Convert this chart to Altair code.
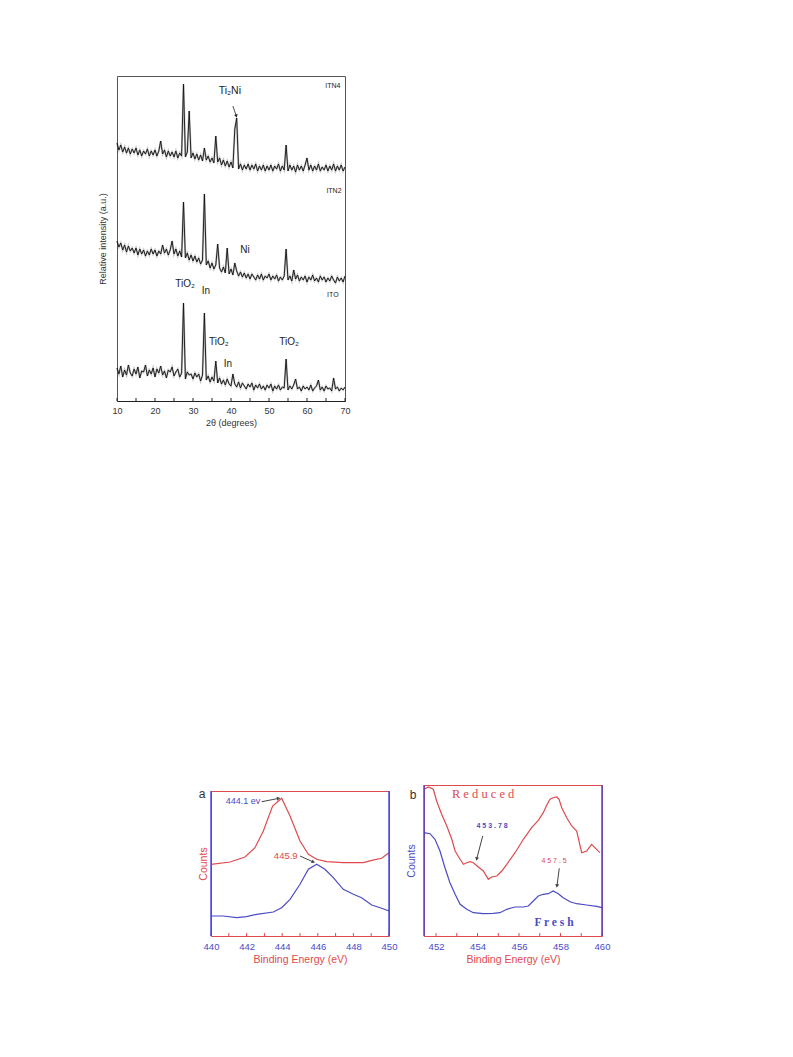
import altair as alt
import pandas as pd

# ---------------- XRD (top figure) ----------------
two_theta = [round(10 + 0.5 * i, 1) for i in range(121)]

ito = [33, 27, 35, 24, 31, 26, 36, 28, 25, 32,
       27, 34, 23, 30, 29, 36, 25, 31, 27, 33,
       24, 32, 28, 35, 26, 30, 23, 31, 29, 34,
       25, 29, 32, 24, 28, 98, 22, 29, 26, 27,
       22, 28, 24, 27, 20, 26, 88, 21, 25, 19,
       24, 20, 40, 18, 23, 17, 21, 16, 22, 17,
       15, 27, 17, 14, 19, 13, 18, 15, 12, 17,
       14, 18, 11, 16, 13, 17, 12, 15, 11, 16,
       13, 17, 10, 15, 12, 16, 11, 14, 13, 42,
       11, 15, 12, 16, 22, 12, 14, 10, 15, 12,
       14, 11, 16, 10, 13, 15, 21, 11, 14, 10,
       15, 12, 13, 10, 23, 12, 14, 10, 13, 11, 14]

itn2 = [160, 154, 158, 151, 156, 149, 155, 150, 153, 148,
        153, 146, 152, 147, 151, 145, 150, 146, 152, 147,
        151, 145, 150, 147, 156, 148, 152, 146, 151, 160,
        147, 152, 145, 150, 144, 199, 143, 148, 141, 146,
        140, 145, 139, 143, 137, 141, 207, 136, 140, 133,
        138, 132, 136, 157, 133, 129, 134, 128, 153, 127,
        132, 126, 138, 130, 125, 129, 124, 128, 123, 127,
        122, 127, 124, 121, 126, 122, 127, 121, 125, 123,
        127, 121, 125, 122, 126, 120, 124, 121, 125, 152,
        121, 125, 120, 131, 122, 126, 120, 124, 121, 125,
        119, 124, 121, 126, 120, 123, 119, 125, 121, 124,
        119, 123, 120, 125, 121, 118, 124, 120, 123, 119, 125]

itn4 = [258, 251, 256, 249, 254, 248, 253, 247, 252, 248,
        253, 246, 251, 245, 250, 247, 252, 245, 250, 246,
        251, 245, 250, 260, 247, 251, 244, 250, 245, 249,
        244, 250, 243, 248, 245, 317, 244, 249, 290, 243,
        248, 242, 247, 241, 246, 240, 253, 241, 245, 239,
        243, 238, 265, 239, 243, 236, 241, 235, 240, 234,
        239, 233, 272, 283, 232, 237, 231, 236, 232, 237,
        231, 236, 232, 237, 230, 235, 231, 236, 230, 235,
        231, 236, 230, 235, 232, 237, 230, 235, 231, 256,
        230, 236, 231, 235, 229, 236, 231, 235, 230, 236,
        243, 231, 236, 230, 235, 231, 237, 230, 234, 231,
        236, 230, 235, 231, 237, 230, 235, 231, 236, 230, 234]

xrd_ticks = [10, 15, 20, 25, 30, 35, 40, 45, 50, 55, 60, 65, 70]
xrd_tick_labels = [10, 20, 30, 40, 50, 60, 70]

xrd_text = ["Ti₂Ni", "ITN4", "ITN2", "Ni", "TiO₂", "In", "ITO", "TiO₂", "In", "TiO₂"]
xrd_text_x = [39.7, 66.8, 67.1, 43.7, 27.9, 33.4, 66.8, 36.8, 39.2, 55.3]
xrd_text_y = [310, 315, 210, 151, 117, 110, 106, 59, 37, 59]
xrd_text_size = [10.5, 7, 7, 10, 10, 10, 7, 10, 10, 10]

# arrow: start (x, y) -> tip (x2, y2), head angle
xrd_arrow_x, xrd_arrow_y = [40.5], [295]
xrd_arrow_x2, xrd_arrow_y2 = [41.4], [285]
xrd_arrow_angle = [163]

# ---------------- XPS panel a ----------------
a_red_energy = [440.0, 441.07, 441.91, 442.47, 442.94, 443.46, 443.97, 444.44, 445.0,
                445.47, 445.94, 446.5, 447.43, 448.56, 449.03, 449.59, 450.0]
a_red_counts = [71.7, 74, 79, 88.3, 105, 130, 137.7, 120, 95,
                81.7, 76.7, 74.3, 73.3, 73.3, 75.7, 77.7, 83.3]
a_blue_energy = [440.0, 440.69, 441.44, 442.0, 442.57, 443.5, 443.97, 444.44, 445.0, 445.47,
                 445.94, 446.4, 446.87, 447.43, 448.0, 448.46, 449.03, 449.59, 450.0]
a_blue_counts = [20, 20, 18.3, 19.3, 21.7, 24, 28.3, 36.7, 51.7, 66.7,
                 71.7, 66.7, 58.3, 46.7, 41.7, 38.3, 31, 27.7, 25]
a_ticks = [440, 441, 442, 443, 444, 445, 446, 447, 448, 449, 450]
a_tick_labels = [440, 442, 444, 446, 448, 450]

# ---------------- XPS panel b ----------------
b_red_energy = [451.42, 451.63, 451.87, 452.03, 452.27, 452.52, 452.76, 452.92, 453.16, 453.32,
                453.48, 453.64, 453.80, 454.04, 454.28, 454.52, 454.68, 454.93, 455.17, 455.41,
                455.81, 456.21, 456.61, 456.93, 457.17, 457.34, 457.49, 457.65, 457.82, 457.93,
                458.06, 458.30, 458.54, 458.78, 459.02, 459.26, 459.50, 459.74, 459.90]
b_red_counts = [146.7, 149, 146.7, 135, 121.7, 110, 96.7, 85, 76.7, 71.7,
                73.3, 74.3, 73.3, 69, 65, 56.7, 59, 60, 65, 71.7,
                83.3, 96.7, 108.3, 115.7, 123.3, 131, 136.7, 138.3, 139, 136.7,
                128.3, 118.3, 110, 105, 83.3, 85, 91.7, 86.7, 83.3]
b_blue_energy = [451.42, 451.71, 451.95, 452.19, 452.43, 452.67, 452.92, 453.16, 453.48, 453.80,
                 454.28, 454.76, 455.08, 455.41, 455.81, 456.21, 456.45, 456.69, 456.93, 457.17,
                 457.41, 457.65, 457.89, 458.13, 458.46, 458.78, 459.26, 459.74, 460.0]
b_blue_counts = [103.3, 102.3, 96.7, 85, 68.3, 53.3, 41.7, 31.7, 26.7, 23.3,
                 22.3, 22.7, 23.3, 26.7, 29, 29, 30, 35, 40, 41.7,
                 42.3, 45, 42.3, 38.3, 34.3, 32.3, 31, 29.7, 28.3]
b_ticks = [452, 453, 454, 455, 456, 457, 458, 459, 460]
b_tick_labels = [452, 454, 456, 458, 460]

RED = "#de4a4d"
BLUE = "#4b4bc6"
AXBLUE = "#4040dd"
GREY = "#333333"
FONT = "Liberation Sans"
SERIF = "Liberation Serif"

# ======================= XRD chart =======================
WX, HX = 228, 325


def xrd_x(field="two_theta"):
    return alt.X(f"{field}:Q", scale=alt.Scale(domain=[10, 70], nice=False, zero=False),
                 axis=alt.Axis(values=xrd_tick_labels, format="d", ticks=False, grid=False,
                               domainColor="#222", labelFontSize=9, labelColor=GREY,
                               labelPadding=5, labelFlush=False, labelOverlap=False,
                               title="2θ (degrees)",
                               titleFontSize=9, titleFontWeight="normal", titleColor=GREY,
                               titlePadding=3))


def xrd_y(field="intensity"):
    return alt.Y(f"{field}:Q", scale=alt.Scale(domain=[0, 325], nice=False, zero=False),
                 axis=alt.Axis(labels=False, ticks=False, domain=False, grid=False,
                               title="Relative intensity (a.u.)", titleFontSize=9,
                               titleFontWeight="normal", titleColor=GREY, titlePadding=10))


xrd_df = pd.concat([
    pd.DataFrame({"two_theta": two_theta, "intensity": vals, "sample": name})
    for name, vals in [("ITO", ito), ("ITN2", itn2), ("ITN4", itn4)]
])

xrd_band = alt.Chart(xrd_df).mark_line(strokeWidth=2.0, color="#555", opacity=0.35).encode(
    x=xrd_x(), y=xrd_y(), detail="sample:N")
xrd_lines = alt.Chart(xrd_df).mark_line(strokeWidth=0.9, color="#111").encode(
    x=xrd_x(), y=xrd_y(), detail="sample:N")

xrd_tk = alt.Chart(pd.DataFrame({"two_theta": xrd_ticks})).mark_rule(color="#222").encode(
    x=xrd_x(), y=alt.value(HX), y2=alt.value(HX - 3))

xrd_txt = alt.Chart(pd.DataFrame({"two_theta": xrd_text_x, "intensity": xrd_text_y,
                                  "label": xrd_text, "size": xrd_text_size})).mark_text(
    font=FONT, color="#222", align="center", baseline="middle").encode(
    x=xrd_x(), y=xrd_y(), text="label:N", size=alt.Size("size:Q", scale=None))

xa = pd.DataFrame({"two_theta": xrd_arrow_x, "intensity": xrd_arrow_y,
                   "t2": xrd_arrow_x2, "i2": xrd_arrow_y2})
xh = pd.DataFrame({"two_theta": xrd_arrow_x2, "intensity": xrd_arrow_y2,
                   "angle": xrd_arrow_angle})
xrd_arr_line = alt.Chart(xa).mark_rule(color="#222", strokeWidth=0.8).encode(
    x=xrd_x(), y=xrd_y(), x2="t2:Q", y2="i2:Q")
xrd_arr_head = alt.Chart(xh).mark_point(shape="triangle-up", filled=True, color="#222",
                                        size=14, opacity=1).encode(
    x=xrd_x(), y=xrd_y(), angle=alt.Angle("angle:Q", scale=None))

xrd = alt.layer(xrd_band, xrd_lines, xrd_tk, xrd_txt, xrd_arr_line, xrd_arr_head).properties(
    width=WX, height=HX, view=alt.ViewBackground(stroke="#555", strokeWidth=1))


# ======================= XPS panels =======================
def xps_panel(red_e, red_c, blue_e, blue_c, domain, ymax, ticks, tick_labels, title_color,
              letter, letter_x, letter_y, ypad, texts, arrows):
    W, H = 178, ymax

    def ex():
        return alt.X("energy:Q", scale=alt.Scale(domain=domain, nice=False, zero=False),
                     axis=alt.Axis(values=tick_labels, format="d", ticks=False, grid=False,
                                   domainColor=RED, labelFontSize=9.5, labelColor=BLUE,
                                   labelPadding=5, labelFlush=False, labelOverlap=False,
                                   title="Binding Energy (eV)", titleFontSize=10.5,
                                   titleFontWeight="normal", titleColor=RED, titlePadding=4))

    def cy():
        return alt.Y("counts:Q", scale=alt.Scale(domain=[0, ymax], nice=False, zero=False),
                     axis=alt.Axis(labels=False, ticks=False, domain=False, grid=False,
                                   title="Counts", titleFontSize=10.5, titleFontWeight="normal",
                                   titleColor=title_color, titlePadding=ypad))

    df = pd.concat([
        pd.DataFrame({"energy": red_e, "counts": red_c, "series": "red"}),
        pd.DataFrame({"energy": blue_e, "counts": blue_c, "series": "blue"}),
    ])
    lines = alt.Chart(df).mark_line(strokeWidth=1.2).encode(
        x=ex(), y=cy(), detail="series:N",
        color=alt.Color("series:N", scale=alt.Scale(domain=["red", "blue"], range=[RED, BLUE]),
                        legend=None))
    tk = alt.Chart(pd.DataFrame({"energy": ticks})).mark_rule(color=RED).encode(
        x=ex(), y=alt.value(H), y2=alt.value(H - 3))
    one = pd.DataFrame({"v": [0]})
    left = alt.Chart(one).mark_rule(color=AXBLUE, strokeWidth=1.4).encode(
        x=alt.value(0), y=alt.value(0), y2=alt.value(H))
    right = alt.Chart(one).mark_rule(color=AXBLUE, strokeWidth=1.4).encode(
        x=alt.value(W), y=alt.value(0), y2=alt.value(H))
    let = alt.Chart(one).mark_text(text=letter, font=FONT, fontSize=12, color="#333",
                                   align="center", baseline="middle").encode(
        x=alt.value(letter_x), y=alt.value(letter_y))
    layers = [lines, tk, left, right, let]
    for t in texts:
        tdf = pd.DataFrame({"energy": [t["x"]], "counts": [t["y"]], "label": [t["text"]]})
        layers.append(alt.Chart(tdf).mark_text(font=t["font"], fontSize=t["size"],
                                               fontWeight=t["weight"], color=t["color"],
                                               align="center", baseline="middle").encode(
            x=ex(), y=cy(), text="label:N"))
    for a in arrows:
        adf = pd.DataFrame({"energy": [a[0]], "counts": [a[1]], "e2": [a[2]], "c2": [a[3]]})
        hdf = pd.DataFrame({"energy": [a[2]], "counts": [a[3]], "angle": [a[4]]})
        layers.append(alt.Chart(adf).mark_rule(color="#444", strokeWidth=1).encode(
            x=ex(), y=cy(), x2="e2:Q", y2="c2:Q"))
        layers.append(alt.Chart(hdf).mark_point(shape="triangle-up", filled=True, color="#444",
                                                size=16, opacity=1).encode(
            x=ex(), y=cy(), angle=alt.Angle("angle:Q", scale=None)))
    return alt.layer(*layers).properties(
        width=W, height=H, view=alt.ViewBackground(stroke=RED, strokeWidth=1))


panel_a = xps_panel(
    a_red_energy, a_red_counts, a_blue_energy, a_blue_counts, [440, 450], 145,
    a_ticks, a_tick_labels, RED, "a", -9, 3, 3,
    texts=[{"x": 441.8, "y": 135, "text": "444.1 ev", "font": FONT, "size": 9,
            "weight": "normal", "color": BLUE},
           {"x": 444.2, "y": 80, "text": "445.9", "font": FONT, "size": 9.5,
            "weight": "normal", "color": RED}],
    arrows=[(442.85, 134.3, 443.8, 137.6, 79), (445.0, 80, 445.75, 74, 114)])

panel_b = xps_panel(
    b_red_energy, b_red_counts, b_blue_energy, b_blue_counts, [451.42, 460], 151,
    b_ticks, b_tick_labels, BLUE, "b", -11, 10, 8,
    texts=[{"x": 454.27, "y": 142, "text": "R e d u c e d", "font": SERIF, "size": 12.5,
            "weight": "normal", "color": RED},
           {"x": 457.69, "y": 13, "text": "F r e s h", "font": SERIF, "size": 11.5,
            "weight": "bold", "color": BLUE},
           {"x": 454.70, "y": 110, "text": "4 5 3 . 7 8", "font": FONT, "size": 7,
            "weight": "bold", "color": BLUE},
           {"x": 457.69, "y": 75, "text": "4 5 7 . 5", "font": FONT, "size": 7,
            "weight": "normal", "color": RED}],
    arrows=[(454.25, 100, 453.96, 77, 195), (457.94, 67.7, 457.83, 50, 187)])


def spacer(w, h):
    return alt.Chart(pd.DataFrame({"v": [0]})).mark_rule(strokeOpacity=0, color="white").encode(
        x=alt.value(0), x2=alt.value(w), y=alt.value(0)).properties(width=w, height=h)


# In "flush" layouts a nested concat counts as zero-sized, so the spacers carry the offsets.
row1 = alt.hconcat(spacer(109, 1), xrd, spacing=0, bounds="flush")
col_a = alt.vconcat(spacer(1, 6), panel_a, spacing=0, bounds="flush")
row2 = alt.hconcat(spacer(203, 1), col_a, spacer(213, 1), panel_b, spacing=0, bounds="flush")

chart = alt.vconcat(row1, row2, spacing=709, bounds="flush").properties(
    padding={"left": 0, "top": 67, "right": 5, "bottom": 5}
).configure_view(strokeWidth=0).configure_axis(
    labelFont=FONT, titleFont=FONT, labelOverlap=False)

chart.save("out.html", embed_options={"renderer": "svg", "actions": False})
